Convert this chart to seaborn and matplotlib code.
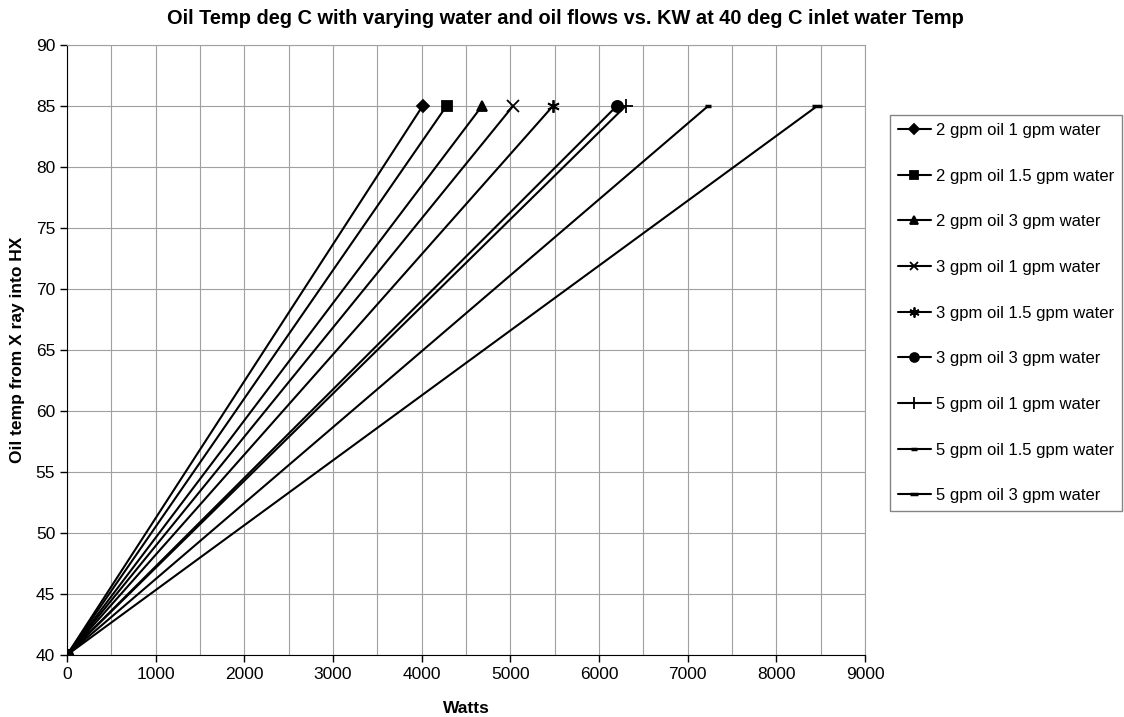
import seaborn as sns
import matplotlib.pyplot as plt
import pandas as pd

# series: each runs from (0 W, 40 C) to (watts at 85 C)
labels = ["2 gpm oil 1 gpm water", "2 gpm oil 1.5 gpm water", "2 gpm oil 3 gpm water",
          "3 gpm oil 1 gpm water", "3 gpm oil 1.5 gpm water", "3 gpm oil 3 gpm water",
          "5 gpm oil 1 gpm water", "5 gpm oil 1.5 gpm water", "5 gpm oil 3 gpm water"]
watts_end = [4010, 4280, 4680, 5030, 5480, 6200, 6300, 7230, 8460]
watts_start = [0] * 9
temp_start = [40] * 9
temp_end = [85] * 9

markers = ["D", "s", "^", "x", (6, 2, 0), "o", "+", "_", "_"]
msizes = [6, 7, 7, 8, 9, 8, 10, 5, 7]

rows = []
for lab, w0, w1, t0, t1 in zip(labels, watts_start, watts_end, temp_start, temp_end):
    rows.append({"series": lab, "Watts": w0, "Temp": t0})
    rows.append({"series": lab, "Watts": w1, "Temp": t1})
df = pd.DataFrame(rows)

sns.set_style("white", {"text.color": "black", "axes.labelcolor": "black",
                        "xtick.color": "black", "ytick.color": "black",
                        "xtick.bottom": True, "ytick.left": True})
plt.rcParams["font.family"] = ["Liberation Sans", "DejaVu Sans"]

fig = plt.figure(figsize=(11.24, 7.17), dpi=100)
ax = fig.add_axes([0.0596, 0.0865, 0.7100, 0.8507])

for lab, m, ms in zip(labels, markers, msizes):
    sub = df[df["series"] == lab]
    sns.lineplot(data=sub, x="Watts", y="Temp", ax=ax, color="black", linewidth=1.5,
                 marker=m, markersize=ms, markeredgecolor="black", markerfacecolor="black",
                 markeredgewidth=2.5 if m == "_" else 1.3, label=lab, sort=False)

ax.set_xlim(0, 9000)
ax.set_ylim(40, 90)
ax.set_xticks(range(0, 9001, 1000))
ax.set_xticks(range(500, 9000, 1000), minor=True)
ax.set_yticks(range(40, 91, 5))
ax.grid(True, which="both", color="#a0a0a0", linewidth=0.8)
ax.set_axisbelow(True)
ax.tick_params(axis="both", which="major", direction="out", length=5, width=1,
               color="black", labelsize=12.5, labelcolor="black", bottom=True, left=True)
ax.tick_params(axis="x", which="minor", length=0)
for s in ax.spines.values():
    s.set_color("#a0a0a0")
ax.spines["left"].set_color("black")
ax.spines["bottom"].set_color("black")

ax.set_xlabel("Watts", fontsize=12.5, fontweight="bold", labelpad=14, color="black")
ax.set_ylabel("Oil temp from X ray into HX", fontsize=12.5, fontweight="bold", labelpad=8,
              color="black")
fig.suptitle("Oil Temp deg C with varying water and oil flows vs. KW at 40 deg C inlet water Temp",
             fontsize=14.4, fontweight="bold", x=0.503, y=0.988, color="black")

leg = ax.legend(loc="upper left", bbox_to_anchor=(0.792, 0.839), bbox_transform=fig.transFigure,
                fontsize=12.0, frameon=True, fancybox=False, labelspacing=1.84,
                handlelength=2.0, handletextpad=0.3, borderpad=0.45, borderaxespad=0,
                markerscale=0.8)
leg.get_frame().set_edgecolor("#666666")
leg.get_frame().set_linewidth(1.0)
for t in leg.get_texts():
    t.set_color("black")

fig.savefig("out.png", dpi=100)
